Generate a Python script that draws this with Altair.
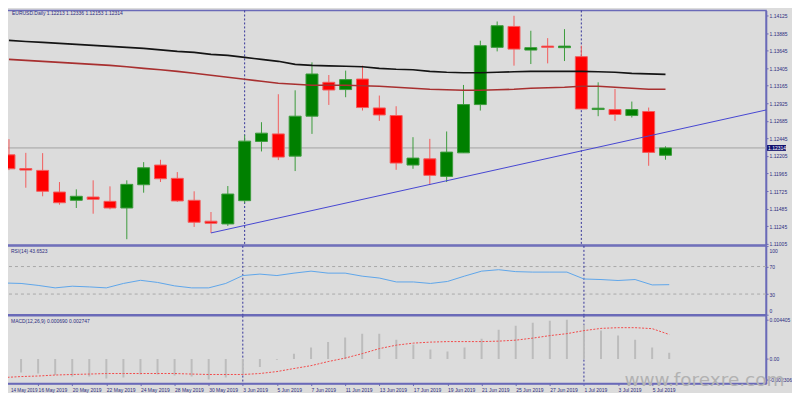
import json
import altair as alt
import pandas as pd

# ---------------- data ----------------
dates = ["14 May 2019", "15 May 2019", "16 May 2019", "17 May 2019", "20 May 2019", "21 May 2019",
         "22 May 2019", "23 May 2019", "24 May 2019", "27 May 2019", "28 May 2019", "29 May 2019",
         "30 May 2019", "31 May 2019", "3 Jun 2019", "4 Jun 2019", "5 Jun 2019", "6 Jun 2019",
         "7 Jun 2019", "10 Jun 2019", "11 Jun 2019", "12 Jun 2019", "13 Jun 2019", "14 Jun 2019",
         "17 Jun 2019", "18 Jun 2019", "19 Jun 2019", "20 Jun 2019", "21 Jun 2019", "24 Jun 2019",
         "25 Jun 2019", "26 Jun 2019", "27 Jun 2019", "28 Jun 2019", "1 Jul 2019", "2 Jul 2019",
         "3 Jul 2019", "4 Jul 2019", "5 Jul 2019", "8 Jul 2019"]

opens = [1.12220, 1.12032, 1.12007, 1.11711, 1.11598, 1.11643, 1.11584, 1.11493, 1.11811, 1.12080,
         1.11898, 1.11598, 1.11312, 1.11275, 1.11593, 1.12403, 1.12506, 1.12202, 1.12748, 1.13211,
         1.13112, 1.13256, 1.12861, 1.12757, 1.12080, 1.12165, 1.11925, 1.12247, 1.12907, 1.13689,
         1.13975, 1.13652, 1.13706, 1.13685, 1.13562, 1.12839, 1.12839, 1.12757, 1.12812, 1.12213]
highs = [1.12434, 1.12247, 1.12243, 1.11848, 1.11748, 1.11871, 1.11789, 1.11871, 1.12120, 1.12152,
         1.11984, 1.11721, 1.11438, 1.11793, 1.12489, 1.12666, 1.13048, 1.13102, 1.13484, 1.13311,
         1.13371, 1.13439, 1.13030, 1.12884, 1.12461, 1.12438, 1.12539, 1.13175, 1.13780, 1.14043,
         1.14121, 1.13916, 1.13815, 1.13938, 1.13712, 1.13211, 1.13120, 1.12948, 1.12866, 1.12336]
lows = [1.12011, 1.11770, 1.11653, 1.11538, 1.11493, 1.11415, 1.11475, 1.11066, 1.11702, 1.11848,
        1.11575, 1.11234, 1.11152, 1.11248, 1.11561, 1.12266, 1.12148, 1.11998, 1.12506, 1.12902,
        1.13007, 1.12825, 1.12684, 1.12015, 1.12029, 1.11811, 1.11848, 1.12247, 1.12825, 1.13634,
        1.13439, 1.13461, 1.13470, 1.13502, 1.12847, 1.12748, 1.12684, 1.12730, 1.12070, 1.12153]
closes = [1.12029, 1.12011, 1.11721, 1.11565, 1.11653, 1.11612, 1.11493, 1.11816, 1.12043, 1.11893,
          1.11589, 1.11298, 1.11284, 1.11684, 1.12407, 1.12516, 1.12189, 1.12748, 1.13325, 1.13106,
          1.13248, 1.12866, 1.12765, 1.12107, 1.12175, 1.11939, 1.12257, 1.12907, 1.13712, 1.13985,
          1.13665, 1.13685, 1.13689, 1.13706, 1.12847, 1.12857, 1.12771, 1.12839, 1.12253, 1.12314]

ma_black = [1.13784, 1.13770, 1.13757, 1.13743, 1.13730, 1.13716, 1.13702, 1.13689, 1.13675, 1.13655,
            1.13634, 1.13620, 1.13593, 1.13580, 1.13552, 1.13525, 1.13498, 1.13457, 1.13443, 1.13436,
            1.13430, 1.13423, 1.13402, 1.13389, 1.13382, 1.13361, 1.13348, 1.13341, 1.13341, 1.13348,
            1.13355, 1.13361, 1.13361, 1.13361, 1.13361, 1.13355, 1.13348, 1.13334, 1.13327, 1.13320]
ma_red = [1.13525, 1.13511, 1.13498, 1.13484, 1.13470, 1.13457, 1.13443, 1.13423, 1.13402, 1.13382,
          1.13361, 1.13334, 1.13307, 1.13280, 1.13252, 1.13225, 1.13198, 1.13184, 1.13170, 1.13170,
          1.13170, 1.13164, 1.13157, 1.13143, 1.13130, 1.13116, 1.13109, 1.13102, 1.13102, 1.13109,
          1.13116, 1.13130, 1.13136, 1.13143, 1.13157, 1.13157, 1.13143, 1.13130, 1.13116, 1.13116]

rsi = [46.1, 45.4, 42.6, 39.0, 41.4, 40.4, 39.0, 45.4, 50.0, 46.9, 41.9, 39.0, 39.0, 45.4, 56.9,
       59.0, 56.9, 60.4, 63.3, 60.4, 60.4, 56.0, 53.3, 47.6, 47.6, 45.4, 48.3, 56.1, 63.3, 65.4,
       62.6, 61.9, 61.9, 61.9, 51.9, 51.1, 49.7, 51.1, 43.3, 43.6523]

macd_main = [-0.00141, -0.00152, -0.00163, -0.00180, -0.00197, -0.00197, -0.00219, -0.00208, -0.00174,
             -0.00174, -0.00186, -0.00197, -0.002306, -0.00208, -0.00174, -0.00090, -0.00010, 0.00060,
             0.00130, 0.00190, 0.00240, 0.00284, 0.00284, 0.00217, 0.00161, 0.00105, 0.00083, 0.00128,
             0.00228, 0.00329, 0.00374, 0.00407, 0.00429, 0.004405, 0.00385, 0.00318, 0.00262, 0.00217,
             0.00128, 0.00069]
macd_signal = [-0.00208, -0.00197, -0.00191, -0.00180, -0.00174, -0.00169, -0.00163, -0.00163, -0.00163,
               -0.00163, -0.00163, -0.00169, -0.00174, -0.00174, -0.00174, -0.00163, -0.00141, -0.00107,
               -0.00075, -0.00029, 0.00010, 0.00060, 0.00116, 0.00155, 0.00178, 0.00189, 0.00195, 0.00195,
               0.00195, 0.00200, 0.00211, 0.00234, 0.00262, 0.00284, 0.00318, 0.00343, 0.00351, 0.00351,
               0.00340, 0.002747]

price_ticks = [1.14125, 1.13885, 1.13645, 1.13405, 1.13165, 1.12925, 1.12685, 1.12445, 1.12205,
               1.11965, 1.11725, 1.11485, 1.11245, 1.11005]
rsi_ticks = [100, 70, 30, 0]
rsi_levels = [70, 30]
macd_ticks = [0.004405, 0.0, -0.002306]
macd_tick_labels = ["0.004405", "0.00", "-0.002306"]
separator_idx = [14, 34]
trend_idx = [12, 46]
trend_price = [1.11152, 1.12885]

symbol = "EURUSD.Daily"
rsi_label = "RSI(14) 43.6523"
macd_label = "MACD(12,26,9) 0.000690 0.002747"
watermark = "www.forexre.com"

# ---------------- frames ----------------
n = len(dates)
df = pd.DataFrame({
    "i": list(range(n)), "date": dates, "open": opens, "high": highs, "low": lows,
    "close": closes, "ma_black": ma_black, "ma_red": ma_red, "rsi": rsi,
    "macd": macd_main, "signal": macd_signal,
})
df["dir"] = ["up" if c >= o else "down" for o, c in zip(opens, closes)]
sep_df = pd.DataFrame({"i": separator_idx})
trend_df = pd.DataFrame({"i": trend_idx, "p": trend_price})
lvl_df = pd.DataFrame({"v": rsi_levels})

FONT = "Liberation Sans"
AX = "#6a6ab8"
LBL = "#2d2d80"
W = 766
xs = alt.Scale(domain=[-0.117, 44.678], nice=False, zero=False)
X0 = alt.X("i:Q", scale=xs, axis=None)

# ---------------- main panel ----------------
main_y = alt.Scale(domain=[1.109885, 1.141932], nice=False, zero=False)
main_axis = alt.Axis(orient="right", values=price_ticks, format=".5f", title=None,
                     labelFlush=False, labelOverlap=False, tickSize=2, labelPadding=1)


def YM(field):
    return alt.Y(field, scale=main_y, axis=main_axis)


def YMD(v):
    return alt.YDatum(v, scale=main_y, axis=main_axis)


stroke_enc = alt.Stroke("dir:N", scale=alt.Scale(domain=["up", "down"], range=["#3c9c3c", "#f25c5c"]), legend=None)
fill_enc = alt.Fill("dir:N", scale=alt.Scale(domain=["up", "down"], range=["#008000", "#ff0000"]), legend=None)

base = alt.Chart(df)
last_close = closes[-1]

price_line = alt.Chart(pd.DataFrame({"p": [last_close]})).mark_rule(color="#a2a2a2", strokeWidth=1).encode(y=YM("p:Q"))
wicks = base.mark_rule(strokeWidth=1, clip=True).encode(x=X0, y=YM("low:Q"), y2="high:Q", stroke=stroke_enc)
bodies = base.mark_bar(size=12, strokeWidth=1, clip=True).encode(x=X0, y=YM("open:Q"), y2="close:Q",
                                                                  fill=fill_enc, stroke=stroke_enc)
ma1 = base.mark_line(color="#141414", strokeWidth=1.6, clip=True).encode(x=X0, y=YM("ma_black:Q"))
ma2 = base.mark_line(color="#a83030", strokeWidth=1.6, clip=True).encode(x=X0, y=YM("ma_red:Q"))
trend = alt.Chart(trend_df).mark_line(color="#4646d2", strokeWidth=1, clip=True).encode(x=X0, y=YM("p:Q"))
seps_main = alt.Chart(sep_df).mark_rule(color="#34349a", strokeDash=[2, 2], strokeWidth=1).encode(x=X0)
title_txt = alt.Chart(pd.DataFrame({"t": [0]})).mark_text(
    align="left", baseline="top", font=FONT, fontSize=5, color=LBL
).encode(x=alt.value(10), y=alt.value(1),
         text=alt.value(f"{symbol}  {opens[-1]:.5f} {highs[-1]:.5f} {lows[-1]:.5f} {last_close:.5f}"))
cur_box = alt.Chart(pd.DataFrame({"t": [0]})).mark_rect(color="#12126e").encode(
    x=alt.value(W + 1), x2=alt.value(W + 20), y=YMD(last_close + 0.00040), y2=alt.datum(last_close - 0.00040))
cur_txt = alt.Chart(pd.DataFrame({"t": [0]})).mark_text(
    align="left", baseline="middle", font=FONT, fontSize=5, color="white"
).encode(x=alt.value(W + 2), y=YMD(last_close), text=alt.value(f"{last_close:.5f}"))

main = alt.layer(price_line, seps_main, wicks, bodies, ma1, ma2, trend, title_txt, cur_box, cur_txt).properties(
    width=W, height=235)

# ---------------- RSI panel ----------------
rsi_y = alt.Scale(domain=[0, 100], nice=False, zero=False)
rsi_axis = alt.Axis(orient="right", values=rsi_ticks, title=None, labelFlush=False,
                    labelOffset={"condition": [{"test": "datum.value == 100", "value": 5},
                                               {"test": "datum.value == 0", "value": -4}], "value": 0},
                    labelOverlap=False, tickSize=2, labelPadding=1)
rsi_lvls = alt.Chart(lvl_df).mark_rule(color="#a9a9a9", strokeDash=[3, 3], strokeWidth=1).encode(
    y=alt.Y("v:Q", scale=rsi_y, axis=rsi_axis))
rsi_line = base.mark_line(color="#5ea6ea", strokeWidth=1, clip=True).encode(
    x=X0, y=alt.Y("rsi:Q", scale=rsi_y, axis=rsi_axis))
seps_rsi = alt.Chart(sep_df).mark_rule(color="#34349a", strokeDash=[2, 2], strokeWidth=1).encode(x=X0)
rsi_txt = alt.Chart(pd.DataFrame({"t": [0]})).mark_text(
    align="left", baseline="top", font=FONT, fontSize=5, color=LBL
).encode(x=alt.value(9), y=alt.value(3), text=alt.value(rsi_label))
rsi_panel = alt.layer(rsi_lvls, seps_rsi, rsi_line, rsi_txt).properties(width=W, height=69)

# ---------------- MACD panel ----------------
macd_y = alt.Scale(domain=[-0.002753, 0.004852], nice=False, zero=False)
macd_expr = " : ".join(
    f"abs(datum.value - ({v})) < 1e-7 ? '{s}'" for v, s in zip(macd_ticks, macd_tick_labels)
) + " : ''"
macd_axis = alt.Axis(orient="right", values=macd_ticks, labelExpr=macd_expr, title=None, labelFlush=False,
                     labelOverlap=False, tickSize=2, labelPadding=1)
date_expr = json.dumps(dates) + "[datum.value]"
x_axis = alt.Axis(values=list(range(0, n, 2)), labelExpr=date_expr, labelAlign="left", labelBaseline="top",
                  labelFlush=False, labelOverlap=False, labelBound=False, tickSize=2, labelPadding=2,
                  labelOffset={"condition": {"test": "datum.value == 0", "value": 6.5}, "value": 0},
                  labelFontSize={"condition": {"test": "datum.value == 0", "value": 4.6}, "value": 5},
                  title=None, grid=False)
XB = alt.X("i:Q", scale=xs, axis=x_axis)

hist = base.mark_rule(color="#bcbcbc", strokeWidth=2, clip=True).encode(
    x=XB, y=alt.Y("macd:Q", scale=macd_y, axis=macd_axis), y2=alt.datum(0))
sig = base.mark_line(color="#f24a4a", strokeDash=[2, 1.5], strokeWidth=1, clip=True).encode(
    x=XB, y=alt.Y("signal:Q", scale=macd_y, axis=macd_axis))
seps_macd = alt.Chart(sep_df).mark_rule(color="#34349a", strokeDash=[2, 2], strokeWidth=1).encode(x=XB)
macd_txt = alt.Chart(pd.DataFrame({"t": [0]})).mark_text(
    align="left", baseline="top", font=FONT, fontSize=5, color=LBL
).encode(x=alt.value(9), y=alt.value(3), text=alt.value(macd_label))
wm = alt.Chart(pd.DataFrame({"t": [0]})).mark_text(
    align="left", baseline="alphabetic", font="DejaVu Sans", fontSize=18.5, color="#b2b2b2"
).encode(x=alt.value(624), y=alt.value(70), text=alt.value(watermark))
macd_panel = alt.layer(seps_macd, hist, sig, macd_txt, wm).properties(width=W, height=68)

chart = alt.vconcat(main, rsi_panel, macd_panel, spacing=1, bounds="flush").properties(
    background="#dcdcdc",
    padding={"left": -8, "top": 0, "right": -1, "bottom": 0},
).configure_view(stroke=AX, strokeWidth=1.5).configure_axis(
    labelFont=FONT, labelFontSize=5, labelColor=LBL, domainColor=AX, tickColor=AX, domainWidth=1.5,
    grid=False,
)

chart.save("out.html", embed_options={"renderer": "svg", "actions": False})
